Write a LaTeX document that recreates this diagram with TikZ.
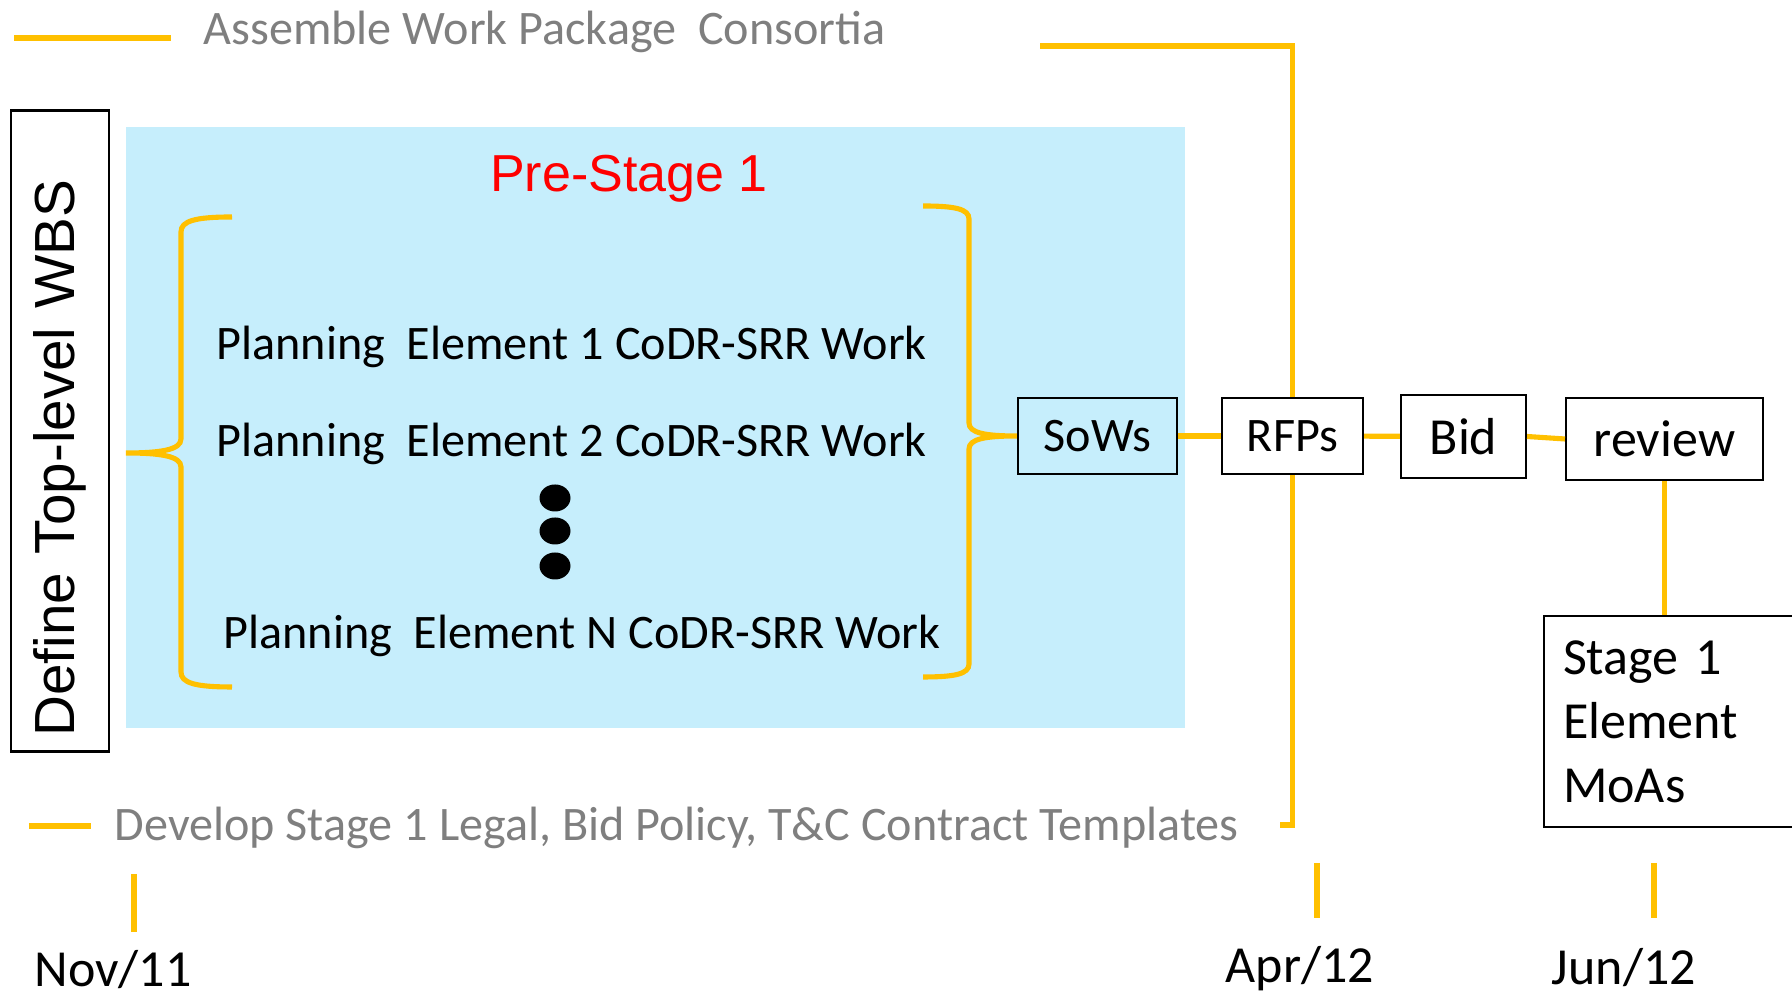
\documentclass[tikz,border=0pt]{standalone}
\usepackage{fontspec}
\setmainfont{Carlito}
\newfontfamily\arialfont{Liberation Sans}
\usepackage{tikz}
\definecolor{wpyellow}{RGB}{255,192,0}
\definecolor{wpblue}{RGB}{198,238,252}
\definecolor{wpgray}{RGB}{127,127,127}
\newcommand{\smallsz}{\fontsize{13.7}{16}\selectfont}
\newcommand{\bigsz}{\fontsize{14.8}{18.2}\selectfont}

\begin{document}
\begin{tikzpicture}[
	yline/.style={draw=wpyellow, line width=1.45pt},
	box/.style={draw, line width=0.6pt, inner sep=0pt, font=\bigsz},
	plan/.style={anchor=base west, inner sep=0pt, font=\smallsz},
	date/.style={anchor=base, inner sep=0pt, font=\bigsz},
	note/.style={anchor=base west, inner sep=0pt, text=wpgray, font=\smallsz}]
	\useasboundingbox (0,0) rectangle (17.92,9.97);
	\fill[wpblue] (1.26,2.69) rectangle (11.85,8.70);
	% legends
	\draw[yline, line width=1.8pt] (0.14,9.59) -- (1.71,9.59);
	\node[note] (assemble) at (2.03,9.52) {Assemble Work Package\ \ Consortia};
	\coordinate (cons) at (10.40,9.51);
	\draw[yline] (0.29,1.71) -- (0.91,1.71);
	\node[note] (develop) at (1.14,1.56) {Develop Stage 1 Legal, Bid Policy, T\&C Contract Templates};
	\coordinate (tplend) at (12.80,1.72);
	% left part
	\node[box, rotate=90, text width=6.11cm, inner xsep=0.15cm, minimum height=0.98cm, align=left, font=\arialfont\fontsize{16.1}{19}\selectfont] (wbs) at (0.60,5.66) {Define Top-level WBS};
	\node[anchor=base, text=red, font=\arialfont\bigsz] (prestage) at (6.29,8.05) {Pre-Stage 1};
	\node[plan] (plan1) at (2.16,6.37) {Planning\ \ Element 1 CoDR-SRR Work};
	\node[plan] (plan2) at (2.16,5.40) {Planning\ \ Element 2 CoDR-SRR Work};
	\node[plan] (planN) at (2.23,3.48) {Planning\ \ Element N CoDR-SRR Work};
	\foreach \y in {4.99,4.66,4.31}
		\fill (5.55,\y) ellipse (0.155 and 0.135);
	% boxes
	\node[box, minimum width=1.59cm, minimum height=0.76cm, font=\smallsz] (sows) at (10.975,5.61) {SoWs};
	\node[box, minimum width=1.41cm, minimum height=0.76cm, font=\smallsz] (rfps) at (12.925,5.61) {RFPs};
	\node[box, minimum width=1.25cm, minimum height=0.83cm] (bid) at (14.635,5.605) {Bid};
	\node[box, minimum width=1.97cm, minimum height=0.82cm] (review) at (16.645,5.58) {review};
	\node[box, anchor=north west, minimum height=2.11cm, text width=2.6cm, inner xsep=0.19cm, align=left] (moas) at (15.43,3.82) {Stage 1\\Element\\MoAs};
	% braces
	\draw[yline] (2.32,7.80) .. controls (1.95,7.80) and (1.81,7.76) .. (1.81,7.65) -- (1.81,5.58)
		.. controls (1.81,5.47) and (1.60,5.44) .. (1.26,5.44)
		.. controls (1.60,5.44) and (1.81,5.41) .. (1.81,5.30) -- (1.81,3.25)
		.. controls (1.81,3.14) and (1.95,3.10) .. (2.32,3.10);
	\draw[yline] (9.23,7.91) .. controls (9.55,7.91) and (9.69,7.88) .. (9.69,7.78) -- (9.69,5.74)
		.. controls (9.69,5.64) and (9.85,5.61) .. (sows.west)
		.. controls (9.85,5.61) and (9.69,5.58) .. (9.69,5.48) -- (9.69,3.33)
		.. controls (9.69,3.23) and (9.55,3.20) .. (9.23,3.20);
	% connectors
	\draw[yline] (sows) -- (rfps);
	\draw[yline] (rfps) -- (bid);
	\draw[yline] (bid.east) -- (review.west);
	\draw[yline] (review.south) -- (review.south |- moas.north);
	\draw[yline] (cons) -| (rfps.north);
	\draw[yline] (rfps.south) |- (tplend);
	% dates
	\draw[yline] (1.34,1.23) -- (1.34,0.65);
	\draw[yline] (13.17,1.34) -- (13.17,0.79);
	\draw[yline] (16.54,1.34) -- (16.54,0.79);
	\node[date] (nov) at (1.13,0.10) {Nov/11};
	\node[date] (apr) at (13.00,0.14) {Apr/12};
	\node[date] (jun) at (16.24,0.12) {Jun/12};
\end{tikzpicture}
\end{document}
